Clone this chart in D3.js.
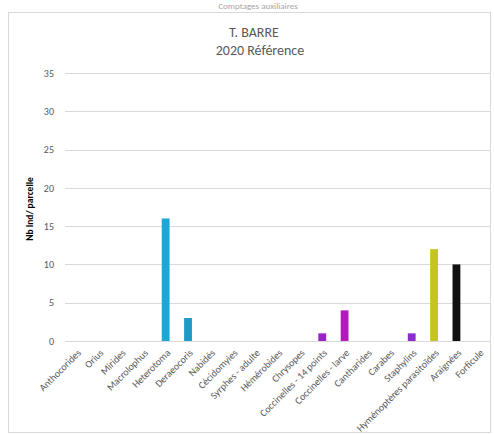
<!DOCTYPE html>
<html>
<head>
<meta charset="utf-8">
<script src="https://cdn.jsdelivr.net/npm/d3@7/dist/d3.min.js"></script>
<style>
  html, body { margin: 0; padding: 0; background: #fff; }
  svg { display: block; font-family: Calibri, Carlito, "Liberation Sans", "Open Sans", sans-serif; }
</style>
</head>
<body>
<svg id="chart" width="494" height="435"></svg>
<script>
const categories = ["Anthocorides", "Orius", "Mirides", "Macrolophus", "Heterotoma", "Deraeocoris",
  "Nabidés", "Cécidomyies", "Syrphes - adulte", "Hémérobides", "Chrysopes",
  "Coccinelles - 14 points", "Coccinelles - larve", "Cantharides", "Carabes", "Staphylins",
  "Hyménoptères parasitoïdes", "Araignées", "Forficule"];
const values = [0, 0, 0, 0, 16, 3, 0, 0, 0, 0, 0, 1, 4, 0, 0, 1, 12, 10, 0];
const barColors = ["#1BA8D6", "#1BA8D6", "#1BA8D6", "#1BA8D6", "#1BA8D6", "#1E9AC6",
  "#1BA8D6", "#1BA8D6", "#1BA8D6", "#1BA8D6", "#9A22C8",
  "#9A22C8", "#B01CB9", "#9A22C8", "#9A22C8", "#8B2CCF",
  "#C6C51E", "#111111", "#111111"];
const yTicks = [0, 5, 10, 15, 20, 25, 30, 35];
const topTitle = "Comptages auxiliaires";
const title1 = "T. BARRE";
const title2 = "2020 Référence";
const yTitle = "Nb Ind/ parcelle";

const svg = d3.select("#chart");

// outer chart frame
svg.append("rect").attr("x", 8.5).attr("y", 12.5).attr("width", 482).attr("height", 420)
  .attr("fill", "none").attr("stroke", "#d9d9d9");

// small text above frame
svg.append("text").attr("x", 258).attr("y", 9).attr("text-anchor", "middle")
  .attr("font-size", 9).attr("fill", "#a6a6a6").text(topTitle);

const x = d3.scaleBand().domain(categories).range([65, 490]).paddingInner(0.65).paddingOuter(0.325);
const y = d3.scaleLinear().domain([0, 35]).range([341, 73]);

// gridlines
svg.append("g").selectAll("line").data(yTicks).join("line")
  .attr("x1", 65).attr("x2", 490)
  .attr("y1", d => Math.round(y(d)) + 0.5).attr("y2", d => Math.round(y(d)) + 0.5)
  .attr("stroke", "#d9d9d9").attr("stroke-width", 1);

// y axis labels
const yAxis = d3.axisLeft(y).tickValues(yTicks).tickSize(0).tickPadding(0);
const gy = svg.append("g").attr("transform", "translate(54,0)").call(yAxis);
gy.select(".domain").remove();
gy.selectAll("text").attr("font-size", 10).attr("fill", "#595959")
  .attr("font-family", "Calibri, Carlito, 'Liberation Sans', sans-serif");

// bars
svg.append("g").selectAll("rect").data(values).join("rect")
  .attr("x", (d, i) => x(categories[i]))
  .attr("y", d => y(d))
  .attr("width", x.bandwidth())
  .attr("height", d => y(0) - y(d))
  .attr("fill", (d, i) => barColors[i]);

// x axis labels
const xAxis = d3.axisBottom(x).tickSize(0).tickPadding(0);
const gx = svg.append("g").attr("transform", "translate(0,349)").call(xAxis);
gx.select(".domain").remove();
gx.selectAll("text")
  .attr("font-size", 10).attr("fill", "#595959")
  .attr("font-family", "Calibri, Carlito, 'Liberation Sans', sans-serif")
  .attr("text-anchor", "end")
  .attr("dy", "0.35em")
  .attr("transform", "translate(3,2) rotate(-45)");

// y title
svg.append("text")
  .attr("transform", "translate(33,209) rotate(-90)")
  .attr("text-anchor", "middle")
  .attr("font-size", 9.5).attr("font-weight", "bold").attr("fill", "#000")
  .text(yTitle);

// titles
svg.append("text").attr("x", 254).attr("y", 37).attr("text-anchor", "middle")
  .attr("font-size", 14).attr("fill", "#595959").text(title1);
svg.append("text").attr("x", 260).attr("y", 55).attr("text-anchor", "middle")
  .attr("font-size", 14).attr("fill", "#595959").text(title2);
</script>
</body>
</html>
